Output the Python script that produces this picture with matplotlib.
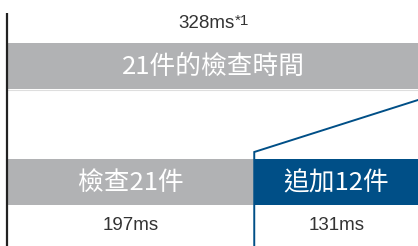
import matplotlib.pyplot as plt

# values
total_ms = 328
parts_ms = [197, 131]
part_labels = ['檢查21件', '追加12件']
total_label = '21件的檢查時間'

GRAY = '#b1b2b4'
BLUE = '#004f87'
TXT = '#333333'
CJK = ['Noto Sans CJK TC', 'DejaVu Sans']
NUM = ['Liberation Sans', 'DejaVu Sans']

fig = plt.figure(figsize=(4.18, 2.46), dpi=100)
ax = fig.add_axes([0, 0, 1, 1])
px = 410 / total_ms  # pixels per ms
ax.set_xlim(-8 / px, total_ms)
ax.set_ylim(246, 0)  # y in pixels, top down
ax.axis('off')

# total bar
ax.barh(66, total_ms, height=46, left=0, color=GRAY, lw=0)
ax.plot([0, total_ms], [89.5, 89.5], color='#dedede', lw=0.8)
ax.text(total_ms / 2, 67, total_label, ha='center', va='center',
        color='white', fontsize=18.5, family=CJK)
t = ax.text(total_ms / 2 - 5, 23, f'{total_ms}ms', ha='center', va='center',
            color=TXT, fontsize=13.5, family=NUM)
ax.annotate('*1', xy=(1, 1.05), xycoords=t, ha='left', va='top',
            color=TXT, fontsize=11, family=NUM)

# split bars
lefts = [0, parts_ms[0]]
colors = [GRAY, BLUE]
for left, w, c, lab in zip(lefts, parts_ms, colors, part_labels):
    ax.barh(182, w, height=46, left=left, color=c, lw=0)
    ax.text(left + w / 2, 183, lab, ha='center', va='center',
            color='white', fontsize=18.5, family=CJK)
    ax.text(left + w / 2, 226, f'{w}ms', ha='center', va='center',
            color=TXT, fontsize=13.5, family=NUM)

# left axis line
ax.plot([-1 / px, -1 / px], [13, 246], color='#222222', lw=1.6,
        solid_capstyle='butt')

# zoom connector line
ax.plot([parts_ms[0], parts_ms[0], total_ms], [246, 152, 100],
        color=BLUE, lw=1.4, solid_joinstyle='miter')

fig.savefig('out.png', dpi=100)
